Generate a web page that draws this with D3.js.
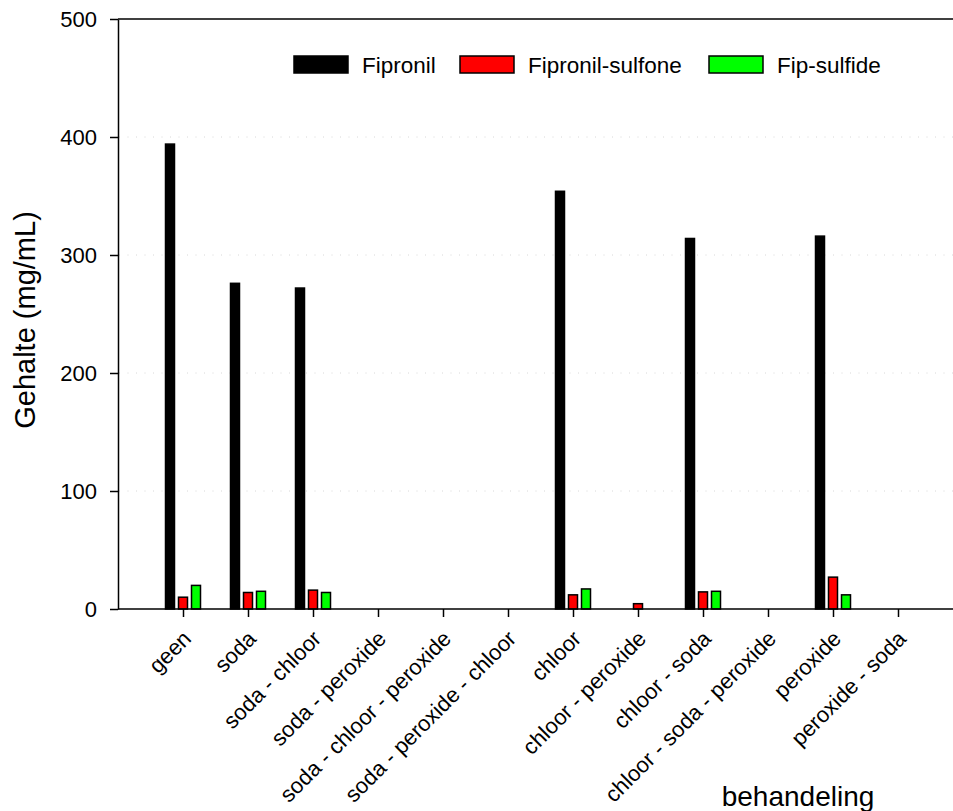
<!DOCTYPE html>
<html lang="nl">
<head>
  <meta charset="UTF-8">
  <title>Gehalte per behandeling</title>
  <style>
    body { margin: 0; background: #fff; }
    svg { display: block; font-family: "Liberation Sans", Arial, sans-serif; }
  </style>
</head>
<body>
  <svg width="953" height="811"></svg>

  <script src="https://d3js.org/d3.v7.min.js"></script>
  <script>
    const categories = [
      "geen", "soda", "soda - chloor", "soda - peroxide", "soda - chloor - peroxide",
      "soda - peroxide - chloor", "chloor", "chloor - peroxide", "chloor - soda",
      "chloor - soda - peroxide", "peroxide", "peroxide - soda"
    ];
    // null = geen meting
    const fipronil       = [394, 276, 272, null, null, null, 354, 0, 314, null, 316, null];
    const fipronilSulfon = [10, 14, 16, null, null, null, 12, 4.5, 14.5, null, 27, null];
    const fipSulfide     = [20, 15, 14, null, null, null, 17, 0, 15, null, 12, null];

    const seriesNames = ["Fipronil", "Fipronil-sulfone", "Fip-sulfide"];
    const seriesColors = ["#000000", "#ff0000", "#00ff00"];
    const yTicks = [0, 100, 200, 300, 400, 500];

    const series = [fipronil, fipronilSulfon, fipSulfide];

    const svg = d3.select("svg");
    const plotLeft = 118, plotTop = 19, plotBottom = 609;
    const FONT = "Liberation Sans, Arial, sans-serif";

    // categorieen op 1..12, as loopt van 0 tot 13 (rechts buiten beeld)
    const x = d3.scaleLinear().domain([0, categories.length + 1]).range([plotLeft, plotLeft + 65 * (categories.length + 1)]);
    const y = d3.scaleLinear().domain([0, 500]).range([plotBottom, plotTop]);

    // rasterlijnen
    svg.append("g")
      .selectAll("line")
      .data(yTicks.filter(d => d > 0 && d < 500))
      .join("line")
      .attr("x1", plotLeft + 1)
      .attr("x2", 953)
      .attr("y1", d => y(d))
      .attr("y2", d => y(d))
      .attr("stroke", "#d8d8d8")
      .attr("stroke-width", 1)
      .attr("stroke-dasharray", "1 7.5");

    // staven
    const barW = 9, offset = 13;
    series.forEach((vals, si) => {
      svg.append("g")
        .selectAll("rect")
        .data(vals.map((v, i) => ({ v, i })).filter(d => d.v !== null && d.v > 0))
        .join("rect")
        .attr("x", d => x(d.i + 1) + (si - 1) * offset - barW / 2)
        .attr("y", d => y(d.v))
        .attr("width", barW)
        .attr("height", d => y(0) - y(d.v))
        .attr("fill", seriesColors[si])
        .attr("stroke", "#000")
        .attr("stroke-width", 1.5);
    });

    // y-as
    const yAxis = svg.append("g")
      .attr("transform", `translate(${plotLeft},0)`)
      .call(d3.axisLeft(y).tickValues(yTicks).tickSize(8).tickSizeOuter(0).tickPadding(13));
    yAxis.selectAll("text").attr("font-size", 22).attr("fill", "#000").attr("font-family", FONT);
    yAxis.selectAll("line, path").attr("stroke", "#000").attr("stroke-width", 1.5);

    // bovenrand
    svg.append("line")
      .attr("x1", plotLeft).attr("x2", 953)
      .attr("y1", y(500)).attr("y2", y(500))
      .attr("stroke", "#000").attr("stroke-width", 1.5);

    // x-as
    const xAxis = svg.append("g")
      .attr("transform", `translate(0,${plotBottom})`)
      .call(d3.axisBottom(x).tickValues(d3.range(1, categories.length + 1)).tickSize(8).tickSizeOuter(0)
        .tickFormat(d => categories[d - 1]));
    xAxis.select(".domain").attr("d", `M${plotLeft},0H953`);
    xAxis.selectAll("line, path").attr("stroke", "#000").attr("stroke-width", 1.5);
    xAxis.selectAll("text")
      .attr("font-size", 22)
      .attr("fill", "#000")
      .attr("font-family", FONT)
      .attr("text-anchor", "end")
      .attr("y", 0)
      .attr("dy", 0)
      .attr("transform", "translate(9,31) rotate(-45)");

    // astitels
    svg.append("text")
      .attr("transform", `translate(35,320) rotate(-90)`)
      .attr("text-anchor", "middle")
      .attr("font-size", 29)
      .text("Gehalte (mg/mL)");
    svg.append("text")
      .attr("x", 798)
      .attr("y", 806)
      .attr("text-anchor", "middle")
      .attr("font-size", 28)
      .text("behandeling");

    // legenda
    const legendX = [294, 460, 709];
    const legend = svg.append("g");
    seriesNames.forEach((name, i) => {
      legend.append("rect")
        .attr("x", legendX[i]).attr("y", 56)
        .attr("width", 54).attr("height", 17)
        .attr("fill", seriesColors[i])
        .attr("stroke", "#000").attr("stroke-width", 1.5);
      legend.append("text")
        .attr("x", legendX[i] + 68).attr("y", 73)
        .attr("font-size", 22.5)
        .text(name);
    });
  </script>
</body>
</html>
